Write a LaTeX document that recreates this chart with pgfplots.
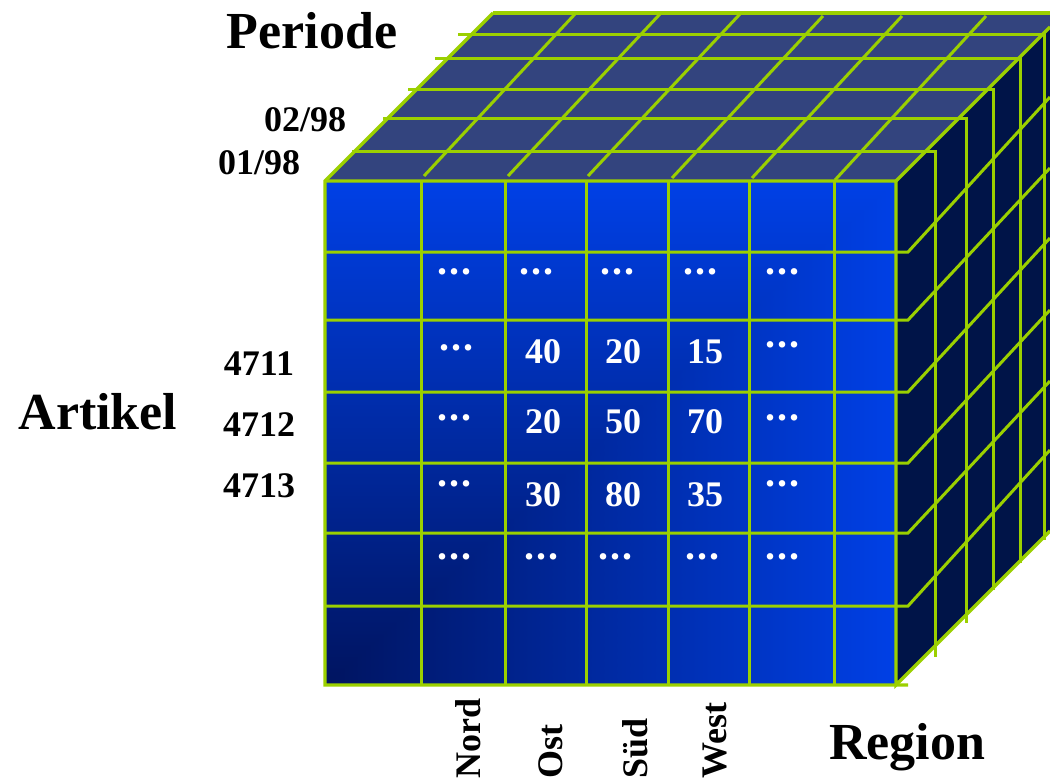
\documentclass[border=0pt]{standalone}
\usepackage{fontspec}
\setmainfont{Liberation Serif}
\usepackage{pgfplots}
\pgfplotsset{compat=1.18}
\definecolor{lim}{RGB}{155,208,0}
\definecolor{sideface}{RGB}{0,20,72}
\definecolor{topface}{RGB}{51,68,126}
\newcommand{\dd}{\fontsize{40}{40}\selectfont .\kern2pt.\kern2pt.}
\newcommand{\lab}[4]{\node[anchor=base,inner sep=0pt,font=\fontsize{#1}{#1}\selectfont\bfseries] at (axis cs:#2,#3) {#4};}
\newcommand{\rlab}[4]{\node[anchor=base west,rotate=90,inner sep=0pt,font=\fontsize{#1}{#1}\selectfont\bfseries] at (axis cs:#2,#3) {#4};}
\begin{document}
\begin{tikzpicture}
\path[use as bounding box] (0,0) rectangle (1050pt,780pt);
\begin{axis}[
  at={(0,0)}, anchor=south west,
  scale only axis, width=1050pt, height=780pt,
  xmin=0, xmax=1050, ymin=0, ymax=780, y dir=reverse,
  axis lines=none, clip=true,
  colormap={cube}{rgb255=(0,64,230) rgb255=(0,20,96)},
  colormap name=cube, point meta min=0, point meta max=1,
  gl/.style={draw=lim, line width=3pt, mark=none, line join=miter},
]
% top and side faces
\addplot[fill=topface, draw=none] coordinates {(325,181)(493,13)(1050,13)(1050,27)(896,181)};
\addplot[fill=sideface, draw=none] coordinates {(896,181)(1050,27)(1050,531)(896,685)};
% front face: corner gradient
\addplot[patch, patch type=triangle, shader=interp, point meta=explicit]
  table[meta=c]{
x y c
896 181 0
325 685 1
325 181 0
896 181 0
325 685 1
896 685 0
};
% top face diagonals
\addplot[gl] coordinates {(424,176)(575,14)};
\addplot[gl] coordinates {(508,176)(660,14)};
\addplot[gl] coordinates {(588,176)(740,14)};
\addplot[gl] coordinates {(672,178)(823,16)};
\addplot[gl] coordinates {(752,178)(902,16)};
\addplot[gl] coordinates {(835,180)(986,16)};
% lines running over the top face and down the side face
\addplot[gl] coordinates {(352,151)(935,151)(935,657)};
\addplot[gl] coordinates {(383,118)(966,118)(966,623)};
\addplot[gl] coordinates {(408,89)(993,89)(993,590)};
\addplot[gl] coordinates {(435,58)(1020,58)(1020,563)};
\addplot[gl] coordinates {(458,34)(1044,34)(1044,540)};
% front verticals
\addplot[gl] coordinates {(421,181)(421,685)};
\addplot[gl] coordinates {(505,181)(505,685)};
\addplot[gl] coordinates {(586,181)(586,685)};
\addplot[gl] coordinates {(668,181)(668,685)};
\addplot[gl] coordinates {(749,181)(749,685)};
\addplot[gl] coordinates {(834,181)(834,685)};
% front horizontals continuing up the side face
\addplot[gl] coordinates {(325,252)(908,252)(1050,97)};
\addplot[gl] coordinates {(325,320)(908,320)(1050,168)};
\addplot[gl] coordinates {(325,392)(908,392)(1050,238)};
\addplot[gl] coordinates {(325,463)(908,463)(1050,310)};
\addplot[gl] coordinates {(325,533)(908,533)(1050,381)};
\addplot[gl] coordinates {(325,606)(908,606)(1050,450)};
% outline
\addplot[gl, line width=3.4pt] coordinates {(493,13)(325,181)(325,685)(908,685)};
\addplot[gl, line width=3.4pt] coordinates {(325,181)(896,181)(896,685)(1050,531)};
\addplot[gl, line width=3.4pt] coordinates {(896,181)(1050,27)};
\addplot[gl, line width=3.4pt] coordinates {(493,13)(1050,13)};
% cell values
\addplot[only marks, mark=none, point meta=explicit symbolic,
  nodes near coords,
  nodes near coords style={anchor=base, inner sep=0pt, text=white,
    font=\fontsize{36}{36}\selectfont\bfseries}]
  coordinates {
  (543,363)[40] (623,363)[20] (705,363)[15]
  (543,433)[20] (623,433)[50] (705,433)[70]
  (543,506)[30] (623,506)[80] (705,506)[35]
  (454,274)[\dd] (536,274)[\dd] (617,274)[\dd] (700,274)[\dd] (782,274)[\dd]
  (456,350)[\dd] (782,347)[\dd]
  (454,420)[\dd] (782,420)[\dd]
  (454,486)[\dd] (782,486)[\dd]
  (454,559)[\dd] (541,559)[\dd] (615,559)[\dd] (702,559)[\dd] (782,559)[\dd]
  };
% labels
\lab{52}{312}{48}{Periode}
\lab{52}{98}{429}{Artikel}
\lab{52}{907}{759}{Region}
\lab{36}{305}{131}{02/98}
\lab{36}{259}{174}{01/98}
\lab{36}{259}{375}{4711}
\lab{36}{259}{436}{4712}
\lab{36}{259}{497}{4713}
\rlab{36}{480}{779}{Nord}
\rlab{36}{562}{779}{Ost}
\rlab{36}{647}{779}{Süd}
\rlab{36}{726}{779}{West}
\end{axis}
\end{tikzpicture}
\end{document}
